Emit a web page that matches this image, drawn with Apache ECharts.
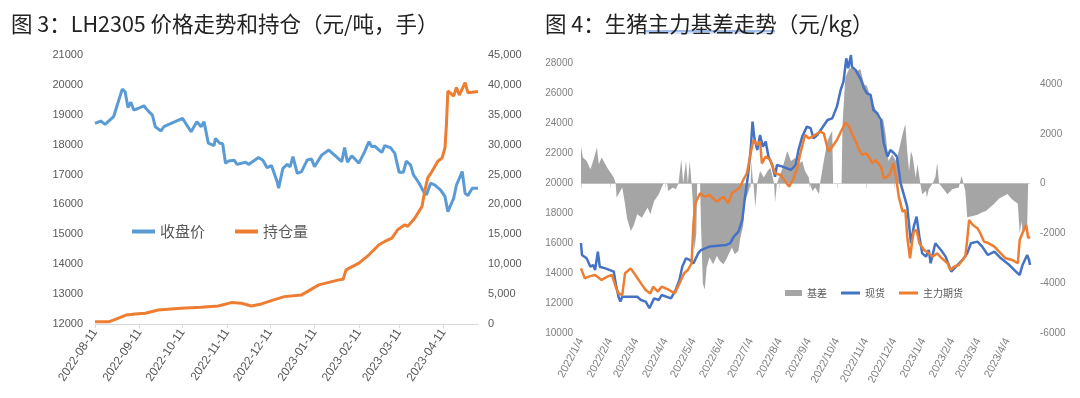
<!DOCTYPE html>
<html>
<head>
<meta charset="utf-8">
<title>LH2305 价格走势和持仓 / 生猪主力基差走势</title>
<script src="https://cdn.jsdelivr.net/npm/echarts@6/dist/echarts.min.js"></script>
<style>
  html, body { margin: 0; padding: 0; background: #fff; }
  #main { width: 1080px; height: 398px; }
</style>
</head>
<body>
<div id="main"></div>
<script>
// ---- 图3：LH2305，横轴为 2022-08-11 起的逐日日期，xxDay 为距起点的天数
var lhStart = [2022, 8, 11];
var lhDayCount = 268;
var lhTicks = ['2022-08-11', '2022-09-11', '2022-10-11', '2022-11-11', '2022-12-11',
  '2023-01-11', '2023-02-11', '2023-03-11', '2023-04-11'];

var priceDay = [0, 4, 7, 13, 19, 21, 23, 25, 27, 30, 34, 37, 40, 42, 46, 48, 61, 67, 71, 74,
  76, 79, 83, 84, 87, 89, 91, 93, 97, 99, 105, 107, 114, 117, 120, 123, 127, 128, 131, 134,
  136, 138, 141, 144, 148, 151, 153, 158, 163, 167, 172, 174, 176, 179, 184, 188, 191, 193, 195, 198,
  200, 202, 206, 209, 212, 215, 217, 220, 222, 226, 229, 231, 234, 237, 241, 244, 246, 250, 252, 256,
  258, 260, 263, 267];
var price = [18715, 18790, 18680, 18940, 19860, 19770, 19240, 19420, 19160, 19210,
  19300, 19130, 18990, 18600, 18460, 18600, 18880, 18430, 18770, 18600,
  18770, 18050, 17970, 18210, 18050, 18030, 17380, 17450, 17480, 17340,
  17410, 17340, 17570, 17480, 17230, 17300, 16760, 16540, 17210, 17340,
  17260, 17600, 17040, 17100, 17490, 17520, 17260, 17650, 17820, 17650,
  17430, 17900, 17410, 17630, 17380, 17770, 18100, 17930, 17950, 17820,
  17740, 17970, 17900, 17710, 17080, 17080, 17450, 17320, 16990, 16710,
  16430, 16320, 16710, 16650, 16480, 16260, 15760, 16200, 16650, 17100,
  16370, 16300, 16540, 16540];

var oiDay = [0, 10, 16, 22, 28, 35, 44, 60, 74, 86, 95, 102, 109, 116, 123, 132, 144, 148, 156, 170,
  173, 175, 184, 191, 198, 202, 207, 211, 216, 218, 223, 228, 230, 232, 235, 237, 239, 242, 244, 245,
  246, 250, 252, 254, 258, 260, 267];
var oi = [390, 390, 950, 1510, 1680, 1790, 2350, 2630, 2800, 3020,
  3580, 3470, 3020, 3360, 3910, 4580, 4870, 5420, 6540, 7380,
  7490, 9060, 10180, 11580, 13250, 13810, 14380, 15770, 16610, 16330,
  17730, 19680, 22400, 24450, 25560, 26400, 27230, 27800, 29480, 33390,
  38980, 38140, 39550, 38300, 40390, 38700, 38900];

// ---- 图4：生猪主力基差，横轴为 2022/1/4 起的逐日日期
var hogStart = [2022, 1, 4];
var hogDayCount = 480;
var hogTicks = ['2022/1/4', '2022/2/4', '2022/3/4', '2022/4/4', '2022/5/4', '2022/6/4',
  '2022/7/4', '2022/8/4', '2022/9/4', '2022/10/4', '2022/11/4', '2022/12/4',
  '2023/1/4', '2023/2/4', '2023/3/4', '2023/4/4'];

var spotDay = [0, 1, 6, 10, 13, 15, 18, 20, 26, 35, 37, 40, 42, 44, 60, 64, 69, 73, 78, 83,
  86, 96, 101, 105, 108, 112, 116, 120, 125, 128, 137, 155, 159, 163, 168, 172, 175, 178, 181, 183,
  185, 188, 191, 194, 197, 200, 204, 207, 209, 215, 224, 229, 232, 236, 241, 245, 248, 252, 257, 263,
  268, 273, 277, 280, 283, 285, 288, 289, 293, 298, 302, 305, 309, 312, 316, 320, 323, 327, 330, 334,
  337, 341, 345, 348, 352, 355, 358, 361, 364, 368, 371, 373, 378, 384, 389, 393, 395, 400, 407, 412,
  416, 423, 428, 434, 441, 448, 457, 464, 468, 471, 476, 478, 479];
var spot = [16000, 15200, 14980, 14420, 14530, 14200, 15420, 14420, 14310, 14090,
  13310, 12420, 12090, 12420, 12420, 12200, 12090, 11650, 12310, 12200,
  12530, 12310, 12870, 13530, 14420, 14980, 14870, 14650, 15310, 15530,
  15760, 15870, 15980, 16420, 16760, 17530, 19090, 20420, 22200, 24090,
  22980, 22200, 23200, 22420, 22760, 21760, 21200, 20420, 21200, 21090,
  20870, 21200, 22200, 23090, 23760, 23650, 22980, 23200, 23650, 24200,
  24310, 25090, 26200, 26760, 28310, 27650, 28530, 27760, 27530, 26980,
  26310, 25980, 25870, 24870, 24650, 24200, 22650, 21760, 22200, 21980,
  21760, 19980, 19090, 18420, 15980, 17090, 17760, 16420, 15310, 15090,
  15530, 14650, 15980, 15530, 15090, 14420, 14090, 14420, 14870, 15310,
  15980, 16090, 15760, 15200, 15420, 14980, 14530, 14090, 13870, 14530,
  15200, 14870, 14530];

var futDay = [0, 4, 8, 15, 22, 28, 33, 37, 40, 44, 47, 53, 58, 64, 69, 74, 77, 82, 86, 94,
  100, 105, 110, 114, 118, 120, 122, 127, 132, 137, 145, 152, 157, 161, 166, 170, 173, 177, 181, 184,
  188, 191, 193, 197, 202, 207, 213, 218, 222, 226, 231, 234, 239, 243, 247, 255, 259, 264, 268, 273,
  282, 286, 289, 293, 296, 300, 304, 307, 311, 314, 320, 323, 327, 330, 333, 336, 339, 343, 346, 348,
  351, 353, 355, 358, 361, 366, 371, 375, 380, 385, 391, 394, 398, 403, 407, 410, 412, 414, 418, 423,
  426, 430, 435, 441, 446, 453, 460, 466, 468, 471, 475, 477, 479];
var fut = [14310, 13640, 13760, 13870, 13530, 13760, 13870, 13090, 12640, 12530,
  13980, 14310, 13870, 13310, 12870, 12640, 13090, 12760, 13090, 12870,
  12640, 13310, 13980, 14200, 14650, 17310, 18650, 19310, 19090, 19200,
  18760, 19090, 18650, 19310, 19530, 19760, 20200, 20650, 21980, 22870,
  22530, 22760, 21310, 21760, 21530, 20650, 20530, 20090, 19760, 20200,
  21090, 21980, 23200, 22980, 23090, 23420, 23310, 22090, 22420, 22870,
  24020, 23760, 23310, 22760, 22310, 21870, 21980, 21760, 21310, 21530,
  21090, 20310, 20420, 20650, 21310, 20420, 19090, 18090, 18200, 16420,
  14980, 15980, 16760, 16870, 15980, 15530, 15310, 15090, 15310, 14980,
  14650, 14200, 14420, 14530, 14870, 15090, 16200, 17530, 17200, 16980,
  16650, 16090, 15980, 15760, 15420, 14980, 14870, 14650, 16200, 16670,
  17200, 16330, 16420];

var basisDay = [0, 2, 6, 10, 13, 17, 19, 22, 26, 29, 35, 37, 38, 40, 44, 47, 49, 53, 56, 60,
  65, 71, 74, 78, 83, 86, 88, 92, 93, 98, 101, 104, 107, 109, 112, 114, 116, 118, 119, 121,
  123, 124, 127, 128, 130, 132, 134, 137, 141, 145, 148, 152, 155, 161, 164, 168, 170, 173, 175, 179,
  181, 182, 183, 184, 186, 188, 191, 195, 199, 202, 206, 207, 209, 215, 220, 224, 229, 230, 232, 236,
  239, 243, 244, 247, 250, 254, 255, 259, 263, 266, 268, 269, 278, 279, 282, 286, 289, 295, 298, 302,
  305, 309, 312, 316, 320, 322, 325, 328, 332, 336, 339, 343, 346, 348, 350, 352, 354, 357, 359, 362,
  364, 368, 369, 371, 375, 378, 380, 382, 391, 396, 403, 406, 408, 410, 412, 414, 418, 423, 428, 432,
  435, 441, 446, 451, 455, 459, 462, 466, 468, 470, 471, 474, 476, 477, 479];
var basis = [1510, 1050, 910, 580, 910, 1450, 780, 1050, 780, 580, 240, 0, -560, -430, -160, -830, -1370, -1900, -1700, -1230,
  -1370, -960, -1230, -700, -430, -160, 0, 0, -300, -160, -230, 0, 980, 0, 910, 0, 910, 0, -560, -2700,
  -2000, 0, 0, -1630, -4020, -4250, -3380, -2970, -3240, -2900, -3110, -3240, -3040, -2570, -2840, -2700, -2170, -1700, -700, -290,
  0, 910, 240, 0, -960, 0, 510, 240, 510, 640, 0, -760, 0, 640, 1310, 910, 1050, 510, 780, 910,
  510, 240, 0, -300, -160, -430, 0, 910, 1720, 1980, 2120, 0, 0, 2390, 4260, 4600, 4660, 4530, 4600, 3990,
  3930, 3460, 3190, 2790, 2390, 2650, 1980, 910, 1180, 910, 1310, 1980, 2390, 1310, 510, 1310, 1050, 240, 780, 0,
  -430, -290, -560, -230, 0, 240, 840, 0, -430, -230, -160, 310, 0, -290, -1350, -1370, -1300, -1250, -1150, -1100,
  -1000, -800, -600, -500, -420, -600, -700, -800, -2000, -1500, -2000, -1800, -1700, 0, 0];

function dayList(start, count, dash) {
  var list = [];
  for (var i = 0; i < count; i++) {
    var d = new Date(Date.UTC(start[0], start[1] - 1, start[2] + i));
    var y = d.getUTCFullYear(), m = d.getUTCMonth() + 1, dd = d.getUTCDate();
    if (dash) {
      list.push(y + '-' + (m < 10 ? '0' : '') + m + '-' + (dd < 10 ? '0' : '') + dd);
    } else {
      list.push(y + '/' + m + '/' + dd);
    }
  }
  return list;
}

function pairs(days, values) {
  return days.map(function (d, i) { return [d, values[i]]; });
}

var lhDates = dayList(lhStart, lhDayCount, true);
var hogDates = dayList(hogStart, hogDayCount, false);

var labelGray = '#595959';
var lightGray = '#7f7f7f';
var cjk = '"Noto Sans CJK SC", "Noto Sans", sans-serif';
var narrow = '"Liberation Sans Narrow", "Liberation Sans", Arial, sans-serif';

function dateAxis(grid, dates, ticks, fontSize, rotate, color) {
  var show = function (index, value) { return ticks.indexOf(value) >= 0; };
  return {
    type: 'category', gridIndex: grid, data: dates, boundaryGap: false,
    axisLine: { lineStyle: { color: '#d9d9d9', width: 1 } },
    axisTick: { interval: show, length: 4, lineStyle: { color: '#d9d9d9' } },
    axisLabel: { interval: show, rotate: rotate, color: color, fontSize: fontSize, fontFamily: narrow, margin: 6 },
    splitLine: { show: false }
  };
}

function valueAxis(grid, pos, min, max, step, fmt, fontSize, margin, color) {
  return {
    type: 'value', gridIndex: grid, position: pos, min: min, max: max, interval: step,
    axisLine: { show: false }, axisTick: { show: false }, splitLine: { show: false },
    axisLabel: { formatter: fmt, color: color, fontSize: fontSize, fontFamily: narrow, margin: margin }
  };
}

var plain = function (v) { return String(v); };
var commas = function (v) { return v.toString().replace(/\B(?=(\d{3})+(?!\d))/g, ','); };

var chart = echarts.init(document.getElementById('main'));

// 右图两根纵轴刻度比例不同，最大值只为对齐位置，不显示
var yLeft2 = valueAxis(1, 'left', 10000, 28800, 2000, plain, 10, 8, lightGray);
yLeft2.axisLabel.showMaxLabel = false;
var yRight2 = valueAxis(1, 'right', -6000, 5325, 2000, plain, 10, 10, lightGray);
yRight2.axisLabel.showMaxLabel = false;

var titleStyle = { fontFamily: cjk, fontSize: 21.5, fontWeight: 'normal', color: '#222' };

chart.setOption({
  animation: false,
  backgroundColor: '#fff',
  title: [
    { text: '图 3：LH2305 价格走势和持仓（元/吨，手）', left: 6, top: 8, textStyle: titleStyle },
    { text: '图 4：生猪主力基差走势（元/kg）', left: 540, top: 8, textStyle: titleStyle }
  ],
  // 标题下的蓝色下划线
  graphic: [
    { type: 'line', shape: { x1: 644, y1: 31, x2: 775, y2: 31 }, style: { stroke: '#7ea6e6', lineWidth: 1.5 } },
    { type: 'line', shape: { x1: 644, y1: 33, x2: 775, y2: 33 }, style: { stroke: '#c9d9f5', lineWidth: 1.5 } }
  ],
  legend: [
    { data: ['收盘价', '持仓量'], left: 127, top: 219, icon: 'rect', itemWidth: 23, itemHeight: 4,
      itemGap: 30, selectedMode: false, textStyle: { fontFamily: cjk, fontSize: 15, color: labelGray } },
    { data: ['基差'], left: 780, top: 283, icon: 'rect', itemWidth: 17, itemHeight: 6,
      selectedMode: false, textStyle: { fontFamily: cjk, fontSize: 10, color: labelGray } },
    { data: ['现货', '主力期货'], left: 836, top: 283, icon: 'rect', itemWidth: 19, itemHeight: 3,
      itemGap: 14, selectedMode: false, textStyle: { fontFamily: cjk, fontSize: 10, color: labelGray } }
  ],
  grid: [
    { left: 95, top: 55, width: 383, height: 269 },
    { left: 581, top: 51, width: 449, height: 282 }
  ],
  xAxis: [
    dateAxis(0, lhDates, lhTicks, 12, 56, labelGray),
    dateAxis(1, hogDates, hogTicks, 11, 62, lightGray)
  ],
  yAxis: [
    valueAxis(0, 'left', 12000, 21000, 1000, plain, 11, 12, labelGray),
    valueAxis(0, 'right', 0, 45000, 5000, commas, 11, 10, labelGray),
    yLeft2,
    yRight2
  ],
  series: [
    { name: '收盘价', type: 'line', xAxisIndex: 0, yAxisIndex: 0, data: pairs(priceDay, price),
      showSymbol: false, color: '#5B9BD5', lineStyle: { width: 3 } },
    { name: '持仓量', type: 'line', xAxisIndex: 0, yAxisIndex: 1, data: pairs(oiDay, oi),
      showSymbol: false, color: '#ED7D31', lineStyle: { width: 3 } },
    { name: '基差', type: 'line', xAxisIndex: 1, yAxisIndex: 3, data: pairs(basisDay, basis),
      showSymbol: false, color: '#A5A5A5', lineStyle: { width: 0 },
      areaStyle: { color: '#A5A5A5', opacity: 1, origin: 'auto' } },
    { name: '现货', type: 'line', xAxisIndex: 1, yAxisIndex: 2, data: pairs(spotDay, spot),
      showSymbol: false, color: '#4472C4', lineStyle: { width: 2.5 } },
    { name: '主力期货', type: 'line', xAxisIndex: 1, yAxisIndex: 2, data: pairs(futDay, fut),
      showSymbol: false, color: '#ED7D31', lineStyle: { width: 2.5 } }
  ]
});
</script>
</body>
</html>
